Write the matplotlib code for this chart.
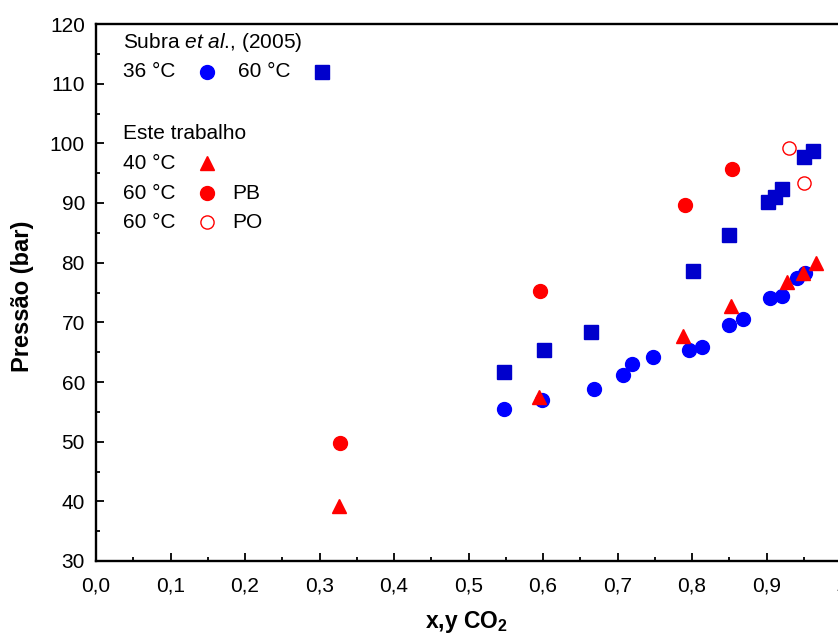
import numpy as np
import matplotlib
matplotlib.use('Agg')
import matplotlib.pyplot as plt
from matplotlib.ticker import MultipleLocator, FixedLocator, FixedFormatter

plt.rcParams['font.family'] = ['Liberation Sans', 'DejaVu Sans']
plt.rcParams['mathtext.fontset'] = 'custom'
plt.rcParams['mathtext.rm'] = 'Liberation Sans'
plt.rcParams['mathtext.it'] = 'Liberation Sans:italic'
plt.rcParams['mathtext.bf'] = 'Liberation Sans:bold'

# Subra et al. (2005), 36 C
x_subra36 = [0.547, 0.599, 0.668, 0.708, 0.720, 0.747, 0.796, 0.814, 0.850, 0.868, 0.905, 0.921, 0.941, 0.952]
p_subra36 = [55.5, 57.0, 58.9, 61.2, 63.1, 64.2, 65.4, 65.8, 69.6, 70.6, 74.1, 74.4, 77.5, 78.2]

# Subra et al. (2005), 60 C
x_subra60 = [0.547, 0.601, 0.665, 0.802, 0.850, 0.902, 0.911, 0.921, 0.951, 0.963]
p_subra60 = [61.6, 65.4, 68.4, 78.6, 84.7, 90.1, 91.0, 92.3, 97.7, 98.7]

# Este trabalho, 40 C
x_40 = [0.326, 0.595, 0.788, 0.852, 0.928, 0.949, 0.967]
p_40 = [39.3, 57.5, 67.7, 72.7, 76.8, 78.3, 79.9]

# Este trabalho, 60 C, ponto de bolha
x_pb = [0.328, 0.596, 0.790, 0.854]
p_pb = [49.8, 75.2, 89.6, 95.7]

# Este trabalho, 60 C, ponto de orvalho
x_po = [0.930, 0.951]
p_po = [99.2, 93.4]

xticks = [0.0, 0.1, 0.2, 0.3, 0.4, 0.5, 0.6, 0.7, 0.8, 0.9, 1.0]
xticklabels = ['0,0', '0,1', '0,2', '0,3', '0,4', '0,5', '0,6', '0,7', '0,8', '0,9', '1']

W, H = 838, 638
fig = plt.figure(figsize=(W / 100, H / 100), dpi=100)
ax = fig.add_axes([96 / W, (H - 561) / H, 745 / W, 537 / H])

blue = '#0000ff'
dblue = '#0000cc'
red = '#ff0000'

ax.plot(x_subra60, p_subra60, 's', color=dblue, ms=10.5, mec=dblue, ls='none')
ax.plot(x_subra36, p_subra36, 'o', color=blue, ms=10, mec=blue, ls='none')
ax.plot(x_pb, p_pb, 'o', color=red, ms=10, mec=red, ls='none')
ax.plot(x_po, p_po, 'o', mfc='white', mec=red, ms=9.5, mew=1, ls='none')
ax.plot(x_40, p_40, '^', color=red, ms=9.5, mec=red, ls='none')

ax.set_xlim(0, 1.0)
ax.set_ylim(30, 120)
ax.xaxis.set_major_locator(FixedLocator(xticks))
ax.xaxis.set_major_formatter(FixedFormatter(xticklabels))
ax.xaxis.set_minor_locator(MultipleLocator(0.05))
ax.yaxis.set_major_locator(MultipleLocator(10))
ax.yaxis.set_minor_locator(MultipleLocator(5))
ax.tick_params(which='both', direction='in', top=False, right=False, width=1.3, labelsize=15)
ax.tick_params(which='major', length=6)
ax.tick_params(which='minor', length=3)
ax.tick_params(axis='x', pad=11)
ax.tick_params(axis='y', pad=8)
for s in ['left', 'bottom', 'top']:
    ax.spines[s].set_linewidth(1.7)
ax.spines['right'].set_visible(False)

# legenda montada manualmente
tr = ax.transAxes
fs = 15
ax.text(0.036, 0.965, r'Subra $\it{et\ al}$., (2005)', transform=tr, fontsize=fs, va='center')
ax.text(0.036, 0.911, '36 °C', transform=tr, fontsize=fs, va='center')
ax.plot([0.149], [0.911], 'o', color=blue, ms=10, transform=tr, clip_on=False)
ax.text(0.190, 0.911, '60 °C', transform=tr, fontsize=fs, va='center')
ax.plot([0.303], [0.911], 's', color=dblue, ms=10.5, transform=tr, clip_on=False)

ax.text(0.036, 0.797, 'Este trabalho', transform=tr, fontsize=fs, va='center')
ax.text(0.036, 0.741, '40 °C', transform=tr, fontsize=fs, va='center')
ax.plot([0.149], [0.741], '^', color=red, ms=9.5, transform=tr, clip_on=False)
ax.text(0.036, 0.685, '60 °C', transform=tr, fontsize=fs, va='center')
ax.plot([0.149], [0.685], 'o', color=red, ms=10, transform=tr, clip_on=False)
ax.text(0.183, 0.685, 'PB', transform=tr, fontsize=fs, va='center')
ax.text(0.036, 0.631, '60 °C', transform=tr, fontsize=fs, va='center')
ax.plot([0.149], [0.631], 'o', mfc='white', mec=red, mew=1, ms=9.5, transform=tr, clip_on=False)
ax.text(0.183, 0.631, 'PO', transform=tr, fontsize=fs, va='center')

fig.text(22 / W, 1 - 296 / H, 'Pressão (bar)', rotation=90, fontsize=17, fontweight='bold',
         ha='center', va='center')
fig.text(466 / W, 1 - 622 / H, r'x,y CO$_\mathbf{2}$', fontsize=16.5, fontweight='bold',
         ha='center', va='center')

fig.savefig('out.png', dpi=100)
